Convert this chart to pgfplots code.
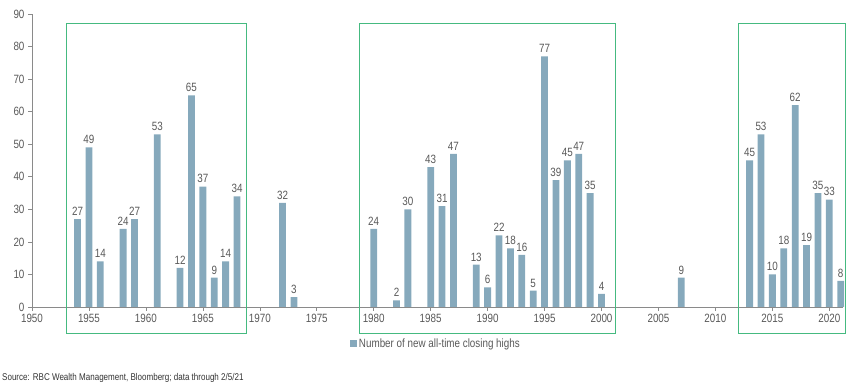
\documentclass[border=0pt]{standalone}
\usepackage{fontspec}
\setmainfont{Liberation Sans}[FakeStretch=0.82]
\usepackage{pgfplots}
\pgfplotsset{compat=1.18}
\definecolor{barc}{HTML}{86A9BC}
\definecolor{boxgreen}{HTML}{45BA80}
\definecolor{axgray}{HTML}{8A8A8A}
\definecolor{txtgray}{HTML}{595959}
\begin{document}
\begin{tikzpicture}
\begin{axis}[name=ax, scale only axis, width=811pt, height=293pt,
  xmin=1950, xmax=2021.2, ymin=0, ymax=90,
  axis lines=left, axis line style={-, draw=axgray, line width=0.8pt},
  clip=false,
  ybar, bar width=6.8pt,
  xtick={1950,1955,...,2020}, ytick={0,10,...,90},
  tick align=outside, major tick length=4pt,
  tick style={draw=axgray, line width=0.6pt},
  x tick label style={/pgf/number format/1000 sep={}},
  /pgf/number format/assume math mode=true,
  tick label style={font=\fontsize{12}{12}\selectfont, text=txtgray},
  nodes near coords,
  every node near coord/.append style={font=\fontsize{12}{12}\selectfont, text=txtgray},
  legend style={at={(0.498,-0.126)}, anchor=center, draw=none, fill=none,
    font=\fontsize{12}{12}\selectfont, text=txtgray, inner sep=0pt},
  legend image code/.code={\fill[barc] (0pt,-3.5pt) rectangle (7pt,3.5pt);},
]
\addplot[fill=barc, draw=none] coordinates {
(1954,27) (1955,49) (1956,14) (1958,24) (1959,27) (1961,53) (1963,12) (1964,65)
(1965,37) (1966,9) (1967,14) (1968,34) (1972,32) (1973,3) (1980,24) (1982,2)
(1983,30) (1985,43) (1986,31) (1987,47) (1989,13) (1990,6) (1991,22) (1992,18)
(1993,16) (1994,5) (1995,77) (1996,39) (1997,45) (1998,47) (1999,35) (2000,4)
(2007,9) (2013,45) (2014,53) (2015,10) (2016,18) (2017,62) (2018,19) (2019,35)
(2020,33) (2021,8)};
\addlegendentry{Number of new all-time closing highs}
\draw[draw=boxgreen, line width=1pt]
  (axis cs:1953,-8) rectangle (axis cs:1968.86,87.2)
  (axis cs:1978.77,-8) rectangle (axis cs:2001.2,87.2)
  (axis cs:2012,-8) rectangle (axis cs:2021.4,87.2);
\end{axis}
\node[anchor=west, font=\fontsize{9.8}{9.8}\selectfont, text=black!80, inner sep=0pt] at ([xshift=-30pt, yshift=-71pt]ax.south west) {Source: RBC Wealth Management, Bloomberg; data through 2/5/21};
\path ([xshift=-32pt,yshift=-81pt]ax.south west) rectangle ([xshift=11pt,yshift=14pt]ax.north east);
\end{tikzpicture}
\end{document}
